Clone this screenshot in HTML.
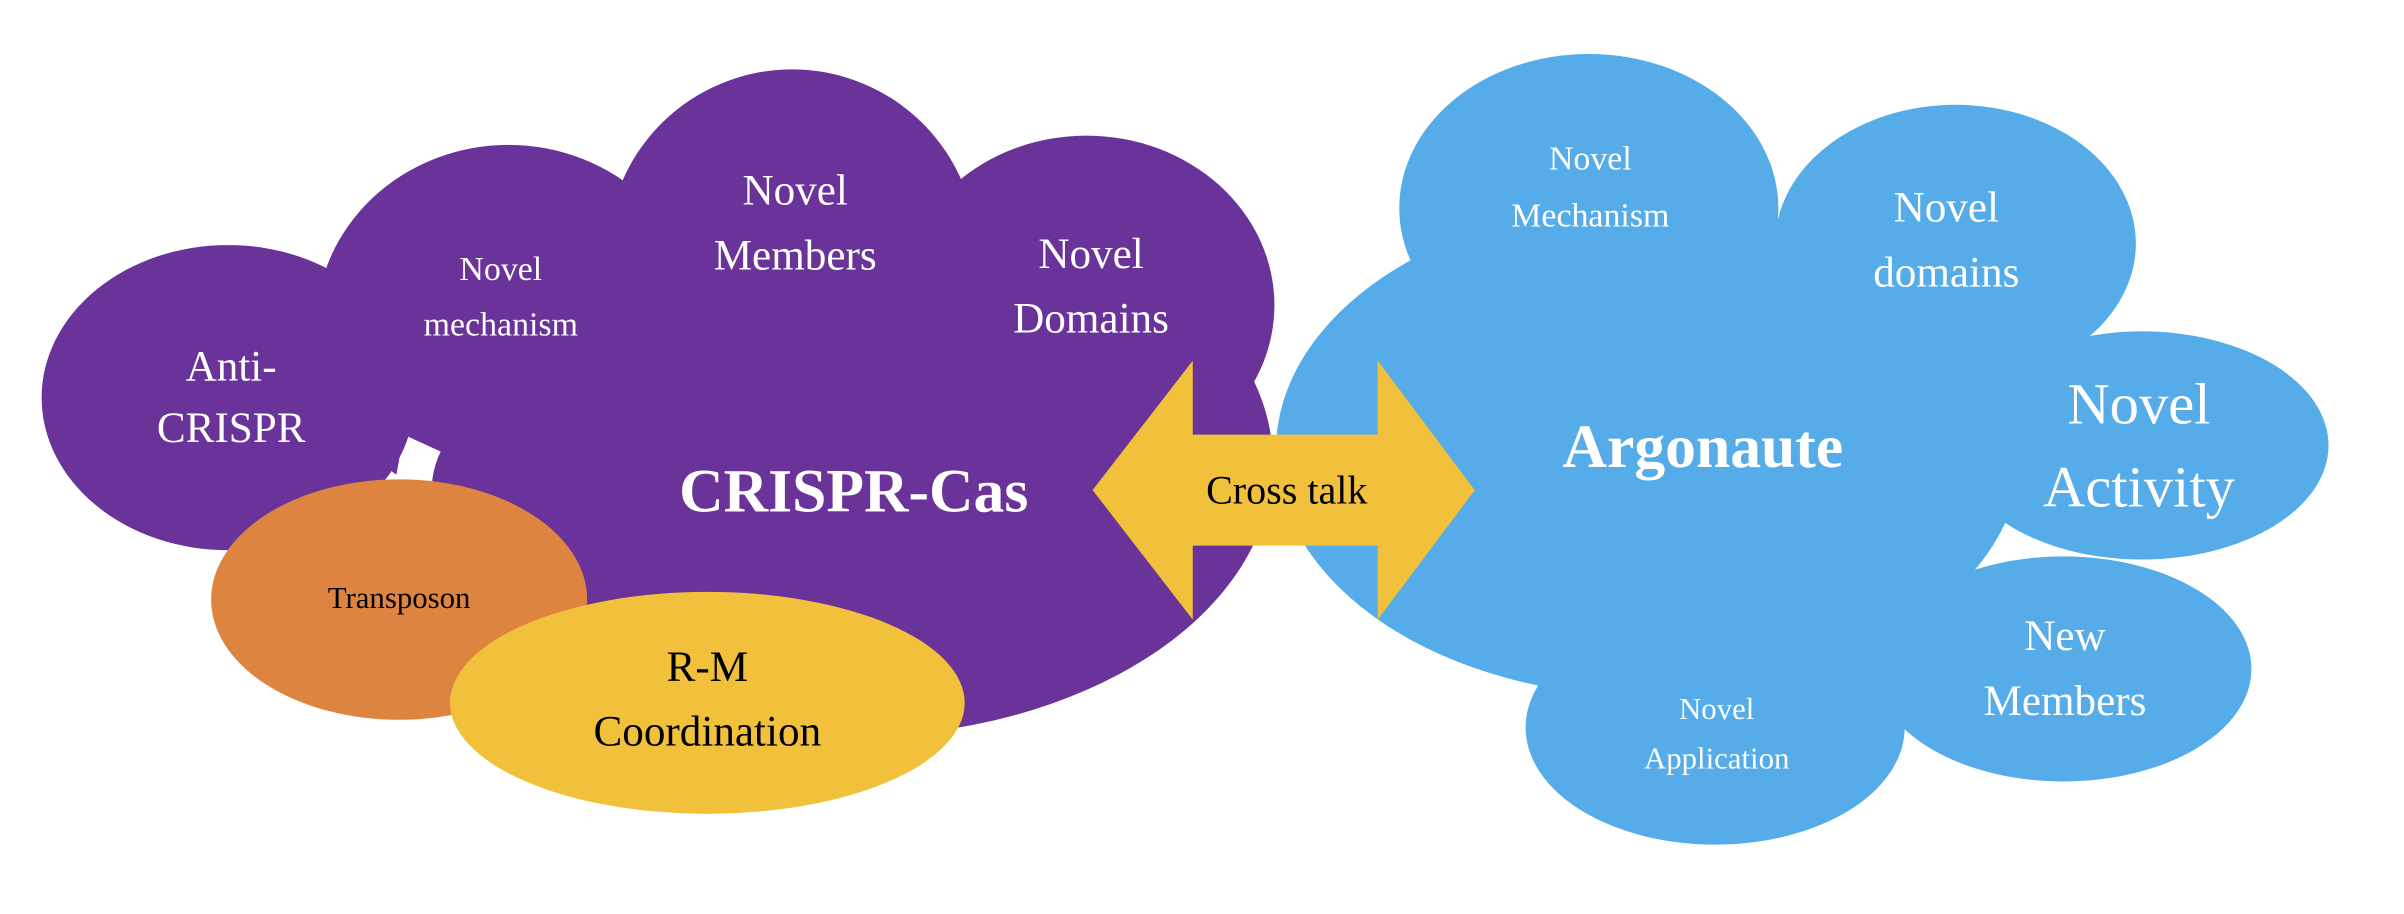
<!DOCTYPE html>
<html><head><meta charset="utf-8"><style>
html,body{margin:0;padding:0;background:#fff;}
svg{display:block;}
text{font-family:"Liberation Serif",serif;text-anchor:middle;dominant-baseline:central;}
.w{fill:#fff}.k{fill:#000}
</style></head><body>
<svg width="2404" height="914" viewBox="0 0 1560 593" preserveAspectRatio="none" xmlns="http://www.w3.org/2000/svg">
<g fill="#6A3399">
<ellipse cx="552" cy="300" rx="274" ry="178"/>
<ellipse cx="330" cy="212" rx="125" ry="118"/>
<ellipse cx="514" cy="165" rx="120" ry="120"/>
<ellipse cx="705" cy="198" rx="122" ry="110"/>
</g>
<path d="M262,282 L286,293 Q280,305 280,320 L255,320 Z" fill="#fff"/>
<ellipse cx="148" cy="258" rx="121" ry="99" fill="#6A3399"/>
<ellipse cx="259" cy="389" rx="122" ry="78" fill="#DD8440"/>
<ellipse cx="459" cy="456" rx="167" ry="72" fill="#F2C13C"/>
<g fill="#55ACE8">
<ellipse cx="1070" cy="292" rx="242" ry="160"/>
<ellipse cx="1190" cy="395" rx="90" ry="55"/>
<ellipse cx="1031" cy="135" rx="123" ry="100"/>
<ellipse cx="1269" cy="158" rx="117" ry="90"/>
<ellipse cx="1390" cy="289" rx="121" ry="74"/>
<ellipse cx="1339" cy="434" rx="122" ry="73"/>
<ellipse cx="1113" cy="472" rx="123" ry="76"/>
</g>
<polygon fill="#F2C13C" points="709,318 774,234 774,282 894,282 894,234 957,318 894,402 894,354 774,354 774,402"/>
<g class="w">
<text x="150" y="238" font-size="28">Anti-</text>
<text x="150" y="278" font-size="28">CRISPR</text>
<text x="325" y="175" font-size="22">Novel</text>
<text x="325" y="211" font-size="22">mechanism</text>
<text x="516" y="124" font-size="28">Novel</text>
<text x="516" y="166" font-size="28">Members</text>
<text x="708" y="165" font-size="28">Novel</text>
<text x="708" y="207" font-size="28">Domains</text>
<text x="554" y="319" font-size="40" font-weight="bold">CRISPR-Cas</text>
<text x="1105" y="290" font-size="40" font-weight="bold">Argonaute</text>
<text x="1032" y="103" font-size="22">Novel</text>
<text x="1032" y="140" font-size="22">Mechanism</text>
<text x="1263" y="135" font-size="28">Novel</text>
<text x="1263" y="177" font-size="28">domains</text>
<text x="1388" y="262" font-size="38">Novel</text>
<text x="1388" y="316" font-size="38">Activity</text>
<text x="1340" y="413" font-size="28">New</text>
<text x="1340" y="455" font-size="28">Members</text>
<text x="1114" y="460" font-size="20">Novel</text>
<text x="1114" y="492" font-size="20">Application</text>
</g>
<g class="k">
<text x="259" y="388" font-size="20">Transposon</text>
<text x="459" y="433" font-size="28">R-M</text>
<text x="459" y="475" font-size="28">Coordination</text>
<text x="835" y="318" font-size="26">Cross talk</text>
</g>
</svg>
</body></html>
